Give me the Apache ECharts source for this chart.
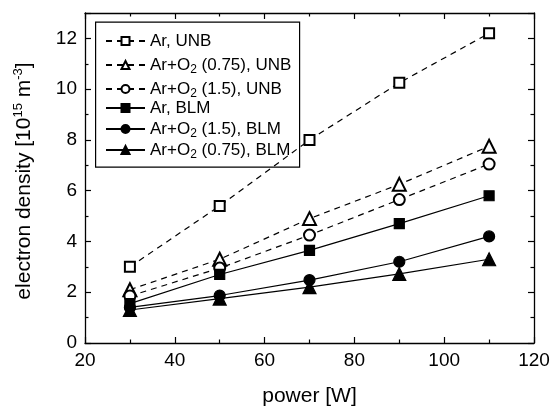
<!DOCTYPE html>
<html>
<head>
<meta charset="utf-8">
<script src="https://cdn.jsdelivr.net/npm/echarts@6/dist/echarts.min.js"></script>
<style>html,body{margin:0;padding:0;background:#fff}#c{width:552px;height:410px}</style>
</head>
<body>
<div id="c"></div>
<script>
const power = [30, 50, 70, 90, 110];
const arUNB = [3.0, 5.4, 8.0, 10.25, 12.2];
const arO2_075UNB = [2.1, 3.3, 4.9, 6.25, 7.75];
const arO2_15UNB = [1.85, 2.95, 4.25, 5.65, 7.05];
const arBLM = [1.55, 2.7, 3.65, 4.7, 5.8];
const arO2_15BLM = [1.4, 1.87, 2.48, 3.2, 4.2];
const arO2_075BLM = [1.3, 1.75, 2.2, 2.72, 3.3];
const xTicks = [20, 40, 60, 80, 100, 120];
const yTicks = [0, 2, 4, 6, 8, 10, 12];

const seriesDefs = [
  {name: 'Ar, UNB', data: arUNB, symbol: 'emptyRect', size: 10, dashed: true},
  {name: 'Ar+O2 (0.75), UNB', data: arO2_075UNB, symbol: 'emptyTriangle', size: 13, dashed: true},
  {name: 'Ar+O2 (1.5), UNB', data: arO2_15UNB, symbol: 'emptyCircle', size: 11, dashed: true},
  {name: 'Ar, BLM', data: arBLM, symbol: 'rect', size: 10, dashed: false},
  {name: 'Ar+O2 (1.5), BLM', data: arO2_15BLM, symbol: 'circle', size: 11, dashed: false},
  {name: 'Ar+O2 (0.75), BLM', data: arO2_075BLM, symbol: 'triangle', size: 13, dashed: false}
];
// legend row positions (layout only)
const legendRowCentres = [41, 65, 89, 108, 129, 150];

const FONT = 'Liberation Sans, Arial, sans-serif';
const axisCommon = {
  axisLine: {show: true, onZero: false, lineStyle: {color: '#000', width: 1.3}},
  axisTick: {show: true, inside: true, length: 6, lineStyle: {color: '#000', width: 1.2}},
  minorTick: {show: true, splitNumber: 2, length: 3.5, lineStyle: {color: '#000', width: 1.2}},
  splitLine: {show: false}
};

const legends = seriesDefs.map((s, i) => {
  const hasSub = s.name.indexOf('O2') >= 0;
  return {
    left: 105, top: legendRowCentres[i] - (hasSub ? 11 : 10), orient: 'vertical',
    padding: 0, itemWidth: 39, itemHeight: 10, itemGap: 0,
    data: [s.name],
    formatter: n => n.replace('O2', 'O{sub|2}'),
    textStyle: {fontFamily: FONT, fontSize: 17, lineHeight: 20, color: '#000',
      rich: {sub: {fontFamily: FONT, fontSize: 12, lineHeight: 20, color: '#000', padding: [10, 0, 0, 0]}}}
  };
});

const chart = echarts.init(document.getElementById('c'), null, {renderer: 'canvas'});
chart.setOption({
  backgroundColor: '#fff',
  animation: false,
  grid: {left: 85, right: 18, top: 13, bottom: 67, containLabel: false, outerBoundsMode: 'none'},
  legend: legends,
  graphic: [{
    type: 'rect', left: 95, top: 21.5, z: 100, silent: true,
    shape: {x: 0, y: 0, width: 204, height: 145},
    style: {fill: 'rgba(0,0,0,0)', stroke: '#000', lineWidth: 1.2}
  }],
  xAxis: [
    Object.assign({}, axisCommon, {
      type: 'value', position: 'bottom', min: xTicks[0], max: xTicks[xTicks.length - 1], interval: 20,
      name: 'power [W]', nameLocation: 'middle', nameGap: 43,
      nameTextStyle: {fontFamily: FONT, fontSize: 21, color: '#000'},
      axisLabel: {show: true, margin: 8, fontFamily: FONT, fontSize: 19, color: '#000'}
    }),
    Object.assign({}, axisCommon, {
      type: 'value', position: 'top', min: xTicks[0], max: xTicks[xTicks.length - 1], interval: 20,
      axisLabel: {show: false}
    })
  ],
  yAxis: [
    Object.assign({}, axisCommon, {
      type: 'value', position: 'left', min: 0, max: 13, interval: 2,
      name: 'electron density [10{sup|15} m{sup|-3}]', nameLocation: 'middle', nameGap: 48, nameRotate: 90,
      nameTextStyle: {fontFamily: FONT, fontSize: 21, color: '#000', padding: [0, 6, 0, 0],
        rich: {sup: {fontFamily: FONT, fontSize: 13, color: '#000', padding: [0, 0, 12, 0]}}},
      axisLabel: {show: true, margin: 8, fontFamily: FONT, fontSize: 19, color: '#000',
        formatter: v => (yTicks.indexOf(v) >= 0 ? String(v) : '')}
    }),
    Object.assign({}, axisCommon, {
      type: 'value', position: 'right', min: 0, max: 13, interval: 2,
      axisLabel: {show: false}
    })
  ],
  series: seriesDefs.map(s => ({
    name: s.name, type: 'line', xAxisIndex: 0, yAxisIndex: 0,
    data: power.map((p, i) => [p, s.data[i]]),
    symbol: s.symbol, symbolSize: s.size,
    lineStyle: {color: '#000', width: 1.2, type: s.dashed ? [6, 5] : 'solid'},
    itemStyle: {color: '#000', borderColor: '#000', borderWidth: 1.2},
    emphasis: {disabled: true}
  }))
});
</script>
</body>
</html>
